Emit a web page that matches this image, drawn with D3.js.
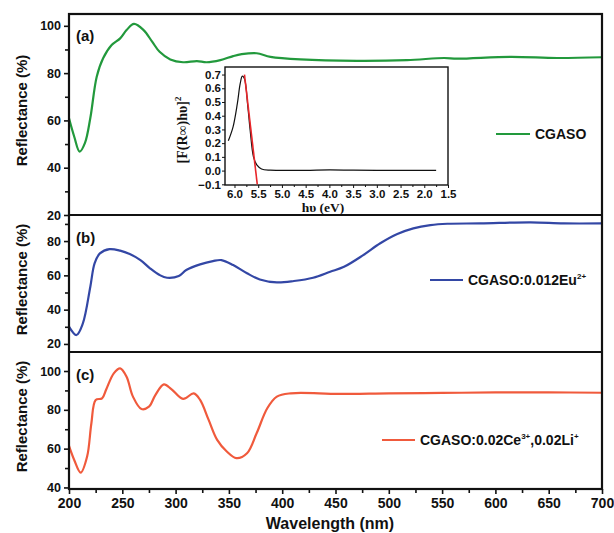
<!DOCTYPE html>
<html><head><meta charset="utf-8">
<script src="https://cdn.jsdelivr.net/npm/d3@7"></script>
<style>
body{margin:0;background:#fff;}
svg{display:block;font-family:"Liberation Sans",Arial,sans-serif;}
.tick text{font-weight:bold;fill:#111;}
</style></head><body>
<svg id="c" width="614" height="533"></svg>
<script>
// ---- data ----
const wlA = [200,205,210,215,220,226,232,240,248,254,261,270,278,285,295,307,320,329,342,354,362,376,389,417,470,517,552,564,614,658,700];
const refA = [60.9,53,46.8,50.5,61,78.5,86.3,91.9,94.7,98.2,100.8,98.2,93.3,89.0,85.8,84.6,85.1,84.6,85.5,87.2,88.0,88.4,86.9,85.8,85.2,85.5,86.4,86.1,86.9,86.4,86.7];
const wlB = [200,207,213,220,224,229,238,248,257,267,276,285,292,303,310,323,335,343,354,367,379,395,411,429,445,458,476,492,508,523,539,555,586,633,664,700];
const refB = [30.1,25.2,32.0,53.4,67,72.8,75.3,74.4,72.4,68.9,64.1,60.2,58.6,59.6,63.1,66.4,68.3,68.9,66.0,61.2,57.6,55.9,56.7,58.6,62.1,65.0,71.8,78.7,84.1,87.4,89.3,90.1,90.3,90.9,90.3,90.3];
const wlC = [200,205,211,217,221,225,231,235,242,248,254,260,268,275,281,289,296,307,317,323,331,339,348,357,367,376,386,395,408,453,500,550,600,650,700];
const refC = [61.4,54,47.6,55.9,73.1,85.1,85.9,90.6,98.8,101.4,97.1,86.8,80.4,81.6,87.6,93.1,90.7,85.6,88.5,85.1,74.8,64.5,58.5,55.1,57.6,67.9,80.8,86.8,88.5,88.2,88.5,88.7,89.0,89.0,88.8];
const insetEv = [6.13,6.03,5.94,5.88,5.835,5.79,5.72,5.67,5.60,5.53,5.43,5.25,5.0,4.5,4.0,3.5,3.0,2.5,2.0,1.75];
const insetF = [0.217,0.319,0.488,0.633,0.688,0.67,0.47,0.295,0.10,0.041,0.012,0.003,0.002,0.002,0.005,0.003,0.002,0.002,0.002,0.002];
const fitEv = [5.79,5.52];
const fitF = [0.70,-0.10];
const xTicks = [200,250,300,350,400,450,500,550,600,650,700];
const insetXTicks = [6.0,5.5,5.0,4.5,4.0,3.5,3.0,2.5,2.0,1.5];
const insetYTicks = [-0.1,0.0,0.1,0.2,0.3,0.4,0.5,0.6,0.7];
const seriesNames = ["CGASO","CGASO:0.012Eu","CGASO:0.02Ce"];
const panelLabels = ["(a)","(b)","(c)"];
const colors = ["#22993c","#3347a5","#f05a3c"];

// ---- layout ----
const svg = d3.select("#c");
const L=69,R=602,T=14,B=489;
const x = d3.scaleLinear().domain([200,700]).range([L,R]);
const panels = [
  {top:T,bottom:215,domain:[20,105.0],major:[20,40,60,80,100],minor:[30,50,70,90],wl:wlA,ref:refA},
  {top:215,bottom:352,domain:[15.3,95.2],major:[20,40,60,80],minor:[30,50,70,90],wl:wlB,ref:refB},
  {top:352,bottom:B,domain:[39.2,109.8],major:[40,60,80,100],minor:[50,70,90],wl:wlC,ref:refC}
];

panels.forEach((p,i)=>{
  const y = d3.scaleLinear().domain(p.domain).range([p.bottom,p.top]);
  p.y=y;
  const gMaj = svg.append("g").attr("transform",`translate(${L},0)`)
    .call(d3.axisLeft(y).tickValues(p.major).tickSize(5).tickPadding(3).tickFormat(d3.format("d")));
  gMaj.select(".domain").remove();
  gMaj.selectAll("line").attr("stroke","#111").attr("stroke-width",1.6);
  gMaj.selectAll("text").style("font-size","12.5px");
  const gMin = svg.append("g").attr("transform",`translate(${L},0)`)
    .call(d3.axisLeft(y).tickValues(p.minor).tickSize(4).tickFormat(""));
  gMin.select(".domain").remove();
  gMin.selectAll("line").attr("stroke","#111").attr("stroke-width",1.6);

  const line = d3.line().x((d,k)=>x(p.wl[k])).y(d=>y(d)).curve(d3.curveCatmullRom.alpha(0.5));
  svg.append("path").datum(p.ref).attr("d",line).attr("fill","none")
    .attr("stroke",colors[i]).attr("stroke-width",2.2);

  svg.append("text").attr("x",-(p.top+p.bottom)/2+4).attr("y",27)
    .attr("transform","rotate(-90)").attr("text-anchor","middle")
    .style("font-size","15px").style("font-weight","bold").attr("fill","#111")
    .text("Reflectance (%)");
});

// panel labels
[41,243,380].forEach((yy,i)=>{
  svg.append("text").attr("x",76).attr("y",yy).style("font-size","15px")
    .style("font-weight","bold").attr("fill","#111").text(panelLabels[i]);
});

// x axis
const gx = svg.append("g").attr("transform",`translate(0,${B})`)
  .call(d3.axisBottom(x).tickValues(xTicks).tickSize(5).tickPadding(4).tickFormat(d3.format("d")));
gx.select(".domain").remove();
gx.selectAll("line").attr("stroke","#111").attr("stroke-width",1.6);
gx.selectAll("text").style("font-size","14px");
const gxm = svg.append("g").attr("transform",`translate(0,${B})`)
  .call(d3.axisBottom(x).tickValues(d3.range(225,700,50)).tickSize(4).tickFormat(""));
gxm.select(".domain").remove();
gxm.selectAll("line").attr("stroke","#111").attr("stroke-width",1.6);
svg.append("text").attr("x",330).attr("y",529).attr("text-anchor","middle")
  .style("font-size","16px").style("font-weight","bold").attr("fill","#111").text("Wavelength (nm)");

// frame
svg.append("rect").attr("x",L).attr("y",T).attr("width",R-L).attr("height",B-T)
  .attr("fill","none").attr("stroke","#111").attr("stroke-width",2.2);
[215,352].forEach(yy=>svg.append("line").attr("x1",L).attr("x2",R).attr("y1",yy).attr("y2",yy)
  .attr("stroke","#111").attr("stroke-width",2.2));

// legends
const legends = [
  {x1:496,x2:530,y:134,tx:535},
  {x1:430,x2:463,y:280,tx:468},
  {x1:382,x2:415,y:440,tx:420}
];
legends.forEach((lg,i)=>{
  svg.append("line").attr("x1",lg.x1).attr("x2",lg.x2).attr("y1",lg.y).attr("y2",lg.y)
    .attr("stroke",colors[i]).attr("stroke-width",2.2);
  const t = svg.append("text").attr("x",lg.tx).attr("y",lg.y+5).style("font-size","14px")
    .style("font-weight","bold").attr("fill","#111");
  if(i===0){ t.text(seriesNames[0]); }
  else if(i===1){
    t.append("tspan").text(seriesNames[1]);
    t.append("tspan").attr("dy",-6).style("font-size","8px").text("2+");
  } else {
    t.append("tspan").text(seriesNames[2]);
    t.append("tspan").attr("dy",-6).style("font-size","8px").text("3+");
    t.append("tspan").attr("dy",6).text(",0.02Li");
    t.append("tspan").attr("dy",-6).style("font-size","8px").text("+");
  }
});

// inset
const iL=225,iR=448,iT=67,iB=185;
const ix = d3.scaleLinear().domain([6.2,1.5]).range([iL,iR]);
const iy = d3.scaleLinear().domain([-0.105,0.755]).range([iB,iT]);
svg.append("rect").attr("x",iL).attr("y",iT).attr("width",iR-iL).attr("height",iB-iT)
  .attr("fill","#fff").attr("stroke","#111").attr("stroke-width",1.4);
const gix = svg.append("g").attr("transform",`translate(0,${iB})`)
  .call(d3.axisBottom(ix).tickValues(insetXTicks).tickSize(3).tickPadding(2).tickFormat(d3.format(".1f")));
gix.select(".domain").remove();
gix.selectAll("line").attr("stroke","#111");
gix.selectAll("text").style("font-size","11.5px");
const gixm = svg.append("g").attr("transform",`translate(0,${iB})`)
  .call(d3.axisBottom(ix).tickValues(d3.range(5.75,1.5,-0.5)).tickSize(2).tickFormat(""));
gixm.select(".domain").remove();
gixm.selectAll("line").attr("stroke","#111");
const giy = svg.append("g").attr("transform",`translate(${iL},0)`)
  .call(d3.axisLeft(iy).tickValues(insetYTicks).tickSize(3).tickPadding(1).tickFormat(d3.format(".1f")));
giy.select(".domain").remove();
giy.selectAll("line").attr("stroke","#111");
giy.selectAll("text").style("font-size","11.5px");
const iline = d3.line().x((d,k)=>ix(insetEv[k])).y(d=>iy(d)).curve(d3.curveCatmullRom.alpha(0.5));
svg.append("path").datum(insetF).attr("d",iline).attr("fill","none").attr("stroke","#111").attr("stroke-width",1.2);
const fline = d3.line().x((d,k)=>ix(fitEv[k])).y(d=>iy(d));
svg.append("path").datum(fitF).attr("d",fline).attr("fill","none").attr("stroke","#e8262a").attr("stroke-width",1.6);
svg.append("text").attr("x",323).attr("y",212).attr("text-anchor","middle")
  .style("font-family","'Liberation Serif',serif").style("font-size","13.5px").style("font-weight","bold")
  .attr("fill","#111").text("hυ (eV)");
const yl = svg.append("text").attr("transform","translate(187,130) rotate(-90)").attr("text-anchor","middle")
  .style("font-family","'Liberation Serif',serif").style("font-size","14px").style("font-weight","bold").attr("fill","#111");
yl.append("tspan").text("[F(R∞)hυ]");
yl.append("tspan").attr("dy",-6).style("font-size","9px").text("2");
</script>
</body></html>
